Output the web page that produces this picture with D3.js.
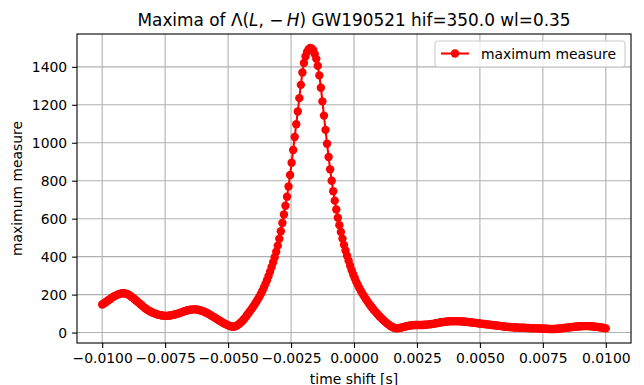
<!DOCTYPE html>
<html><head><meta charset="utf-8">
<script src="https://cdn.jsdelivr.net/npm/d3@7"></script>
<style>
body{margin:0;background:#fff}
svg{display:block}
text{font-family:"DejaVu Sans",sans-serif;fill:#000}
</style>
</head><body>
<svg id="chart" width="644" height="385"></svg>
<script>
// time window of the scan (seconds)
const timeStart = -0.01;
const timeEnd = 0.01;

// maximum measure values, sampled uniformly over the window
const measureValues = [
 148,153,158,164,170,176,182,187,192,196,
 200,203,205,207,207,206,204,200,195,189,
 183,176,169,162,155,148,141,134,128,122,
 117,112,108,104,101,98,95,93,91,90,
 89,88,88,89,90,91,93,95,97,100,
 102,105,108,111,114,116,118,120,121,122,
 122,122,121,119,116,114,111,107,103,99,
 94,89,84,79,74,69,64,59,54,49,
 45,41,37,34,32,31,32,35,40,46,
 53,61,70,80,91,102,113,124,136,148,
 161,174,188,203,219,237,256,276,298,321,
 345,370,397,426,458,494,534,577,622,668,
 716,770,830,895,962,1030,1098,1165,1235,1305,
 1370,1420,1455,1478,1492,1499,1497,1487,1468,1442,
 1405,1355,1290,1218,1143,1068,995,925,860,800,
 745,695,648,605,566,530,495,462,432,405,
 378,352,328,306,286,267,250,234,219,205,
 192,179,167,155,144,133,123,113,104,95,
 86,78,70,62,55,48,42,36,31,27,
 24,23,23,24,26,28,30,32,34,36,
 37,38,39,40,40,40,40,40,40,41,
 41,42,43,44,45,46,48,49,51,52,
 54,55,56,57,58,59,60,60,60,60,
 60,60,59,59,58,57,57,56,55,54,
 53,52,51,50,49,48,47,46,45,44,
 43,42,41,40,39,38,37,36,35,34,
 33,32,31,30,29,29,28,28,27,27,
 26,26,25,25,25,24,24,24,23,23,
 23,22,22,22,21,21,21,20,20,20,
 19,19,19,19,19,20,20,21,22,23,
 24,25,26,27,28,29,30,31,32,32,
 33,33,34,34,34,34,34,33,33,32,
 31,30,29,28,27,26,24,22
];

const xTickValues = [-0.01,-0.0075,-0.005,-0.0025,0,0.0025,0.005,0.0075,0.01];
const yTickValues = [0,200,400,600,800,1000,1200,1400];
const seriesName = "maximum measure";

const timeShifts = measureValues.map((_, i) => timeStart + (timeEnd - timeStart) * i / (measureValues.length - 1));
const points = measureValues.map((v, i) => ({t: timeShifts[i], v}));

const svg = d3.select("#chart");
const L = 77, R = 631, T = 34, B = 343;

const xPad = (timeEnd - timeStart) * 0.05;
const x = d3.scaleLinear().domain([timeStart - xPad, timeEnd + xPad]).range([L, R]);
const vmin = d3.min(measureValues), vmax = d3.max(measureValues);
const yPad = (vmax - vmin) * 0.05;
const y = d3.scaleLinear().domain([vmin - yPad, vmax + yPad]).range([B, T]);

const fmtX = v => (v < 0 ? "\u2212" : "") + Math.abs(v).toFixed(4);

// grid
const grid = svg.append("g");
grid.selectAll("line.vx").data(xTickValues).join("line")
  .attr("x1", d => x(d)).attr("x2", d => x(d)).attr("y1", T).attr("y2", B)
  .attr("stroke", "#b0b0b0").attr("stroke-width", 1.1);
grid.selectAll("line.hy").data(yTickValues).join("line")
  .attr("x1", L).attr("x2", R).attr("y1", d => y(d)).attr("y2", d => y(d))
  .attr("stroke", "#b0b0b0").attr("stroke-width", 1.1);

// axes
const xAxis = d3.axisBottom(x).tickValues(xTickValues).tickFormat(fmtX).tickSizeInner(4.9).tickSizeOuter(0).tickPadding(4.9);
const yAxis = d3.axisLeft(y).tickValues(yTickValues).tickFormat(d3.format("d")).tickSizeInner(4.9).tickSizeOuter(0).tickPadding(4.9);
const gx = svg.append("g").attr("transform", `translate(0,${B})`).call(xAxis);
const gy = svg.append("g").attr("transform", `translate(${L},0)`).call(yAxis);
[gx, gy].forEach(g => {
  g.select(".domain").remove();
  g.selectAll(".tick line").attr("stroke", "#000").attr("stroke-width", 1.1);
  g.selectAll(".tick text").attr("font-size", "13.9px").attr("font-family", "DejaVu Sans").attr("fill", "#000");
});

// data line + markers
const clip = svg.append("clipPath").attr("id", "clip").append("rect")
  .attr("x", L).attr("y", T).attr("width", R - L).attr("height", B - T);
const plot = svg.append("g").attr("clip-path", "url(#clip)");
plot.append("path").datum(points)
  .attr("d", d3.line().x(d => x(d.t)).y(d => y(d.v)))
  .attr("fill", "none").attr("stroke", "#ff0000").attr("stroke-width", 2.08);
plot.selectAll("circle").data(points).join("circle")
  .attr("cx", d => x(d.t)).attr("cy", d => y(d.v)).attr("r", 4.2)
  .attr("fill", "#ff0000");

// spines
svg.append("rect").attr("x", L).attr("y", T).attr("width", R - L).attr("height", B - T)
  .attr("fill", "none").attr("stroke", "#000").attr("stroke-width", 1.1);

// title
const title = svg.append("text").attr("x", (L + R) / 2).attr("y", 26)
  .attr("text-anchor", "middle").attr("font-size", "16.9px");
title.append("tspan").text("Maxima of \u039B(");
title.append("tspan").attr("font-style", "italic").text("L");
title.append("tspan").text(", \u2212\u2009");
title.append("tspan").attr("font-style", "italic").text("H");
title.append("tspan").text(") GW190521 hif=350.0 wl=0.35");

// axis labels
svg.append("text").attr("x", (L + R) / 2).attr("y", 384).attr("text-anchor", "middle")
  .attr("font-size", "13.9px").text("time shift [s]");
svg.append("text").attr("transform", `translate(22,${(T + B) / 2}) rotate(-90)`)
  .attr("text-anchor", "middle").attr("font-size", "13.9px").text("maximum measure");

// legend
const lg = svg.append("g");
lg.append("rect").attr("x", 435).attr("y", 41).attr("width", 190).attr("height", 26)
  .attr("rx", 3).attr("fill", "#fff").attr("fill-opacity", 0.8)
  .attr("stroke", "#cccccc").attr("stroke-width", 1.1);
lg.append("line").attr("x1", 441).attr("x2", 469).attr("y1", 53.5).attr("y2", 53.5)
  .attr("stroke", "#ff0000").attr("stroke-width", 2.08);
lg.append("circle").attr("cx", 455).attr("cy", 53.5).attr("r", 4.2).attr("fill", "#ff0000");
lg.append("text").attr("x", 481).attr("y", 58.5).attr("font-size", "13.9px").text(seriesName);
</script>
</body></html>
